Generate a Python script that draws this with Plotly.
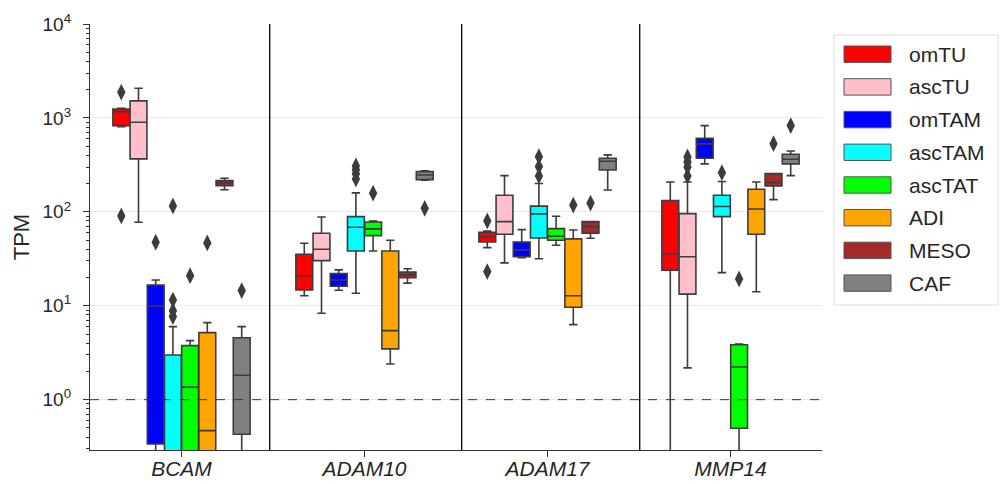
import plotly.graph_objects as go

genes = ["BCAM", "ADAM10", "ADAM17", "MMP14"]
groups = ["omTU", "ascTU", "omTAM", "ascTAM", "ascTAT", "ADI", "MESO", "CAF"]
colors = ["#ff0000", "#ffc0cb", "#0000ff", "#00ffff", "#00ff00", "#ffa500", "#a52a2a", "#808080"]

# rows = groups, columns = genes (BCAM, ADAM10, ADAM17, MMP14); values below the axis are clipped
lower_whisker = [
    [808, 12.8, 41.6, 0.01],
    [77.5, 8.32, 28.6, 2.18],
    [0.01, 14.6, 32.5, 324],
    [0.01, 13.6, 31.7, 22.5],
    [0.01, 38.3, 44.1, 0.01],
    [0.01, 2.40, 6.29, 14.1],
    [172, 17.4, 52.3, 135],
    [0.01, 217, 171, 243],
]
q1 = [
    [828, 14.7, 47.8, 23.9],
    [366, 30.2, 57.7, 13.3],
    [0.337, 16.1, 33.3, 372],
    [0.01, 38.3, 52.7, 88.9],
    [0.01, 55.8, 49.9, 0.496],
    [0.01, 3.47, 9.64, 57.7],
    [190, 19.9, 59.2, 189],
    [0.428, 220, 279, 324],
]
median = [
    [1167, 20.9, 54.5, 35.6],
    [900, 40.0, 78.7, 33.3],
    [9.95, 18.8, 39.3, 529],
    [0.01, 68.5, 95, 114],
    [1.36, 65.8, 55.0, 2.23],
    [0.468, 5.43, 12.8, 107],
    [203, 21.3, 69.5, 205],
    [1.82, 247, 346, 363],
]
q3 = [
    [1239, 35.3, 60.6, 132],
    [1517, 59.2, 150, 95.7],
    [16.6, 22.0, 47.8, 608],
    [2.99, 88.9, 115, 150],
    [3.76, 78.0, 66.2, 3.85],
    [5.17, 38.3, 51.5, 174],
    [215, 22.9, 78.7, 255],
    [4.57, 268, 372, 411],
]
upper_whisker = [
    [1268, 46.3, 62.6, 208],
    [2070, 88.2, 243, 208],
    [18.8, 24.1, 64.6, 828],
    [5.99, 159, 200, 210],
    [4.25, 80.0, 89.8, 3.92],
    [6.61, 49.8, 64.1, 208],
    [228, 24.8, 78.7, 255],
    [5.99, 273, 404, 445],
]
outliers = [
    [[1878, 90.4], [], [80.0, 23.1], []],
    [[], [], [], [384, 340, 301, 241]],
    [[47.5], [], [], []],
    [[115.6, 11.5, 8.87, 7.66], [308, 280, 254, 224], [387, 303, 241], [261]],
    [[20.9], [158], [], [19.3]],
    [[46.6], [], [118], []],
    [[], [], [124], [532]],
    [[14.5], [109], [], [828]],
]
separators = [0.482, 1.531, 2.504]

FONT = "Liberation Sans, Arial, sans-serif"
EDGE = "#3c3c3c"
STEP = 0.094
BOXW = 0.092

fig = go.Figure()
ox, oy = [], []
for g, name in enumerate(groups):
    xs = [i + (g - 3.5) * STEP for i in range(len(genes))]
    fig.add_trace(go.Box(
        x=xs, q1=q1[g], median=median[g], q3=q3[g],
        lowerfence=lower_whisker[g], upperfence=upper_whisker[g],
        name=name, fillcolor=colors[g], line=dict(color=EDGE, width=1.6),
        width=BOXW, whiskerwidth=0.5, boxpoints=False, showlegend=False,
        hoverinfo="skip",
    ))
    for i in range(len(genes)):
        for v in outliers[g][i]:
            ox.append(xs[i])
            oy.append(v)

fig.add_trace(go.Scatter(
    x=ox, y=oy, mode="markers", showlegend=False, hoverinfo="skip",
    marker=dict(symbol="diamond-tall", size=12, color=EDGE),
))

for s in separators:
    fig.add_shape(type="line", xref="x", yref="paper", x0=s, x1=s, y0=0, y1=1,
                  line=dict(color="black", width=1.3))
fig.add_shape(type="line", xref="paper", yref="y", x0=0, x1=1, y0=1, y1=1,
              line=dict(color="#333333", width=1, dash="dash"))

# manual legend (paper coordinates)
L, R, T, B = 90, 822, 24, 450
def px(x):
    return (x - L) / (R - L)
def py(y):
    return (B - y) / (B - T)

fig.add_shape(type="rect", xref="paper", yref="paper",
              x0=px(834), x1=px(998), y0=py(35), y1=py(305),
              line=dict(color="#dedede", width=1), fillcolor="white", layer="below")
for g, name in enumerate(groups):
    c = 54.2 + 32.7 * g
    fig.add_shape(type="rect", xref="paper", yref="paper",
                  x0=px(844), x1=px(891), y0=py(c - 8.2), y1=py(c + 8.2),
                  line=dict(color="#555555", width=1), fillcolor=colors[g])
    fig.add_annotation(xref="paper", yref="paper", x=px(907), y=py(c),
                       text=name, showarrow=False, xanchor="left", yanchor="middle",
                       font=dict(family=FONT, size=21, color="#262626"))

major = [1, 10, 100, 1000, 10000]
minor_vals = [k * 10 ** n for n in range(-1, 4) for k in range(2, 10)]
fig.update_layout(
    width=1000, height=484,
    margin=dict(l=L, r=1000 - R, t=T, b=484 - B, autoexpand=False),
    plot_bgcolor="white", paper_bgcolor="white",
    boxmode="overlay",
    font=dict(family=FONT, color="#262626"),
    xaxis=dict(
        range=[-0.5, 3.5], tickvals=list(range(len(genes))),
        ticktext=[f"<i>{g}</i>" for g in genes],
        tickfont=dict(size=21, color="#262626"),
        ticks="outside", ticklen=6, tickwidth=1.2, tickcolor="#333333",
        ticklabelstandoff=-6,
        showline=True, linecolor="#333333", linewidth=1.3,
        showgrid=False, zeroline=False, automargin=False,
    ),
    yaxis=dict(
        type="log", range=[-0.536, 4.0],
        tickvals=major, ticktext=[f"10<sup>{n}</sup>" for n in range(5)],
        tickfont=dict(size=19, color="#262626"),
        ticks="outside", ticklen=6, tickwidth=1.2, tickcolor="#333333",
        ticklabelstandoff=8,
        minor=dict(tickvals=minor_vals, ticks="outside", ticklen=3,
                   tickwidth=1, tickcolor="#333333", showgrid=False),
        showline=True, linecolor="#333333", linewidth=1.3,
        showgrid=True, gridcolor="#e8e8ef", gridwidth=1, zeroline=False,
        automargin=False,
        title=dict(text="TPM", font=dict(size=22, color="#262626"), standoff=6),
    ),
)

fig.write_html(
    "out.html",
    config={"displayModeBar": False},
    post_script="document.body.style.margin='0';document.body.style.padding='0';",
)
